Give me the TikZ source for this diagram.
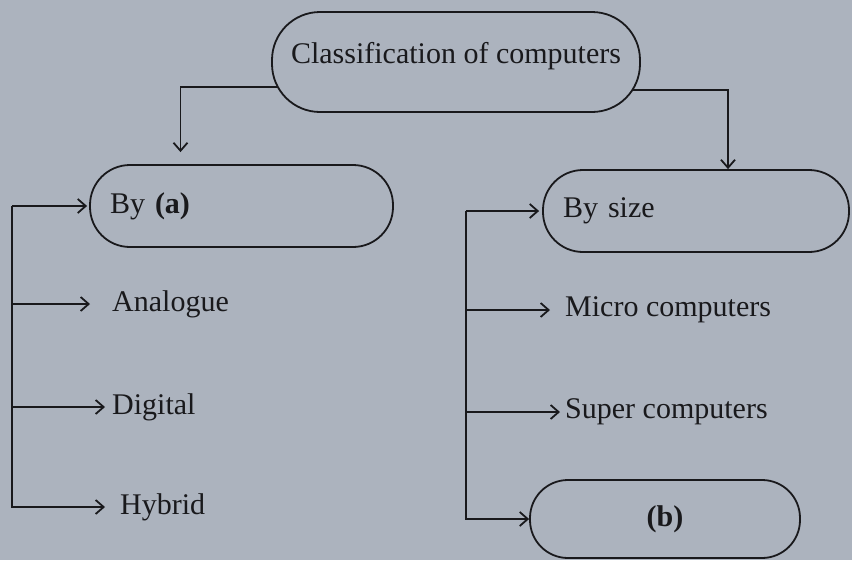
\documentclass[tikz,border=0pt]{standalone}
\usepackage{fontspec}
\setmainfont{Liberation Serif}
\usetikzlibrary{positioning}
\usetikzlibrary{arrows.meta}
\usetikzlibrary{backgrounds}
\definecolor{paper}{RGB}{172,179,190}
\definecolor{ink}{RGB}{25,25,28}

\begin{document}
\begin{tikzpicture}[x=1pt,y=-1pt,
  every node/.style={font=\fontsize{30}{33}\selectfont, text=ink},
  pill/.style={draw=ink, line width=1.8pt, fill=paper, rounded corners=#1},
  leaf/.style={anchor=west, inner xsep=2pt},
  arr/.style={draw=ink, line width=1.8pt, -{Straight Barb[length=8pt,width=14pt,line width=1.8pt]}}]

\useasboundingbox (0,0) rectangle (852,560);

% boxes
\node[pill=48pt, minimum width=368pt, minimum height=100pt, text depth=18pt] (top) at (456,62) {Classification of computers};
\node[pill=40pt, minimum width=303pt, minimum height=82pt, text width=263pt, align=left, inner xsep=20pt] (byA) at (241.5,206) {By \textbf{(a)}};
\node[pill=40pt, minimum width=306pt, minimum height=82pt, text width=266pt, align=left, inner xsep=20pt] (size) at (696,211) {By size};
\node[pill=38pt, minimum width=270pt, minimum height=78pt] (b) at (665,519) {\textbf{(b)}};

% leaves
\node[leaf] (analogue) at (110,304) {Analogue};
\node[leaf] (digital) at (110,407) {Digital};
\node[leaf] (hybrid) at (118,507) {Hybrid};
\node[leaf] (micro) at (563,310) {Micro computers};
\node[leaf] (super) at (563,412) {Super computers};

\coordinate (spineA) at (12,206);
\coordinate (spineB) at (466,211);

\begin{scope}[on background layer]
\fill[paper] (0,0) rectangle (852,560);

\draw[arr, shorten >=12pt] ([xshift=20pt,yshift=-25pt]top.west) -| ([xshift=-61pt]byA.north);
\draw[arr] ([xshift=-20pt,yshift=-28pt]top.east) -| ([xshift=32pt]size.north);

\draw[arr, shorten >=2pt] (spineA) -- (byA.west);
\draw[arr, shorten >=20pt] (spineA) |- (analogue.west);
\draw[arr, shorten >=5pt] (spineA) |- (digital.west);
\draw[arr, shorten >=13pt] (spineA) |- (hybrid.west);

\draw[arr, shorten >=3pt] (spineB) -- (size.west);
\draw[arr, shorten >=13pt] (spineB) |- (micro.west);
\draw[arr, shorten >=3pt] (spineB) |- (super.west);
\draw[arr] (spineB) |- (b.west);
\end{scope}

\end{tikzpicture}
\end{document}
